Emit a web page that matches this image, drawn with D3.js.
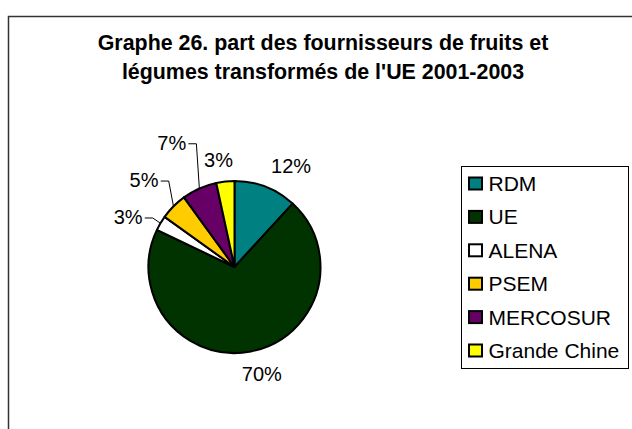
<!DOCTYPE html>
<html>
<head>
<meta charset="utf-8">
<script src="https://cdn.jsdelivr.net/npm/d3@7"></script>
<style>
  body { margin: 0; background: #fff; }
  text { font-family: Arial, "Liberation Sans", sans-serif; }
</style>
</head>
<body>
<svg id="chart" width="632" height="429"></svg>
<script>
// data (percent of total)
const categories = ["RDM", "UE", "ALENA", "PSEM", "MERCOSUR", "Grande Chine"]
const shares = [11.8, 70.3, 2.8, 5.1, 6.6, 3.4]
const colors = ["#008080", "#003300", "#ffffff", "#ffcc00", "#660066", "#ffff00"]
const titleLines = ["Graphe 26. part des fournisseurs de fruits et", "légumes transformés de l'UE 2001-2003"]

// label tweaks, like excel's "best fit" moves them
const labelNudge = {
    "RDM": [16, 3], "UE": [6, -3], "ALENA": [-10, 7],
    "PSEM": [-11, -8], "MERCOSUR": [-17, -22], "Grande Chine": [-4, 4]
}
const withLeader = ["ALENA", "PSEM", "MERCOSUR"]

const svg = d3.select("#chart")

// chart area frame (runs off the page on right / bottom)
svg.append("rect")
    .attr("x", 8.5).attr("y", 16.5)
    .attr("width", 700).attr("height", 500)
    .attr("fill", "#fff")
    .attr("stroke", "#333")
    .attr("stroke-width", 1.5)

svg.append("g").selectAll("text")
    .data(titleLines)
    .enter().append("text")
    .attr("x", 323)
    .attr("y", function(d, i) { return 50 + i * 29 })
    .attr("text-anchor", "middle")
    .style("font-size", "21.4px")
    .style("font-weight", "bold")
    .text(function(d) { return d })

const cx = 234.5, cy = 267, radius = 86
const total = d3.sum(shares)

const pie = d3.pie().sort(null).value(function(d) { return d.value })
const arc = d3.arc().innerRadius(0).outerRadius(radius)
const labelArc = d3.arc().innerRadius(112).outerRadius(112)

const slices = pie(categories.map(function(c, i) { return {id: c, value: shares[i], color: colors[i]} }))

const g = svg.append("g").attr("transform", "translate(" + cx + "," + cy + ")")

g.selectAll(".slice")
    .data(slices)
    .enter().append("path")
    .attr("class", "slice")
    .attr("d", arc)
    .attr("fill", function(d) { return d.data.color })
    .attr("stroke", "#000")
    .attr("stroke-width", 2)
    .attr("stroke-linejoin", "round")

const labels = g.selectAll(".lbl")
    .data(slices)
    .enter().append("g")
    .attr("class", "lbl")

labels.append("text")
    .attr("x", function(d) { return labelArc.centroid(d)[0] + labelNudge[d.data.id][0] })
    .attr("y", function(d) { return labelArc.centroid(d)[1] + labelNudge[d.data.id][1] })
    .attr("dy", "0.35em")
    .attr("text-anchor", "middle")
    .style("font-size", "20px")
    .text(function(d) { return Math.round(d.value / total * 100) + "%" })

// leader lines for the small slices pushed out
labels.filter(function(d) { return withLeader.indexOf(d.data.id) >= 0 })
    .each(function(d) {
        const box = d3.select(this).select("text").node().getBBox()
        const a = (d.startAngle + d.endAngle) / 2
        const ex = Math.sin(a) * radius, ey = -Math.cos(a) * radius
        const sx = box.x + box.width + 2, sy = box.y + box.height / 2 + 1
        d3.select(this).append("path")
            .attr("d", "M" + sx + "," + sy + "H" + (sx + 8) + "L" + ex + "," + ey)
            .attr("fill", "none")
            .attr("stroke", "#000")
            .attr("stroke-width", 1)
    })

// legend
const legend = svg.append("g").attr("transform", "translate(461.5,166.5)")
legend.append("rect")
    .attr("width", 167).attr("height", 202)
    .attr("fill", "#fff")
    .attr("stroke", "#000")
    .attr("stroke-width", 1)

const item = legend.selectAll(".item")
    .data(categories)
    .enter().append("g")
    .attr("class", "item")
    .attr("transform", function(d, i) { return "translate(0," + (17 + i * 33.4) + ")" })

item.append("rect")
    .attr("x", 7.5).attr("y", -6)
    .attr("width", 13).attr("height", 12)
    .attr("fill", function(d, i) { return colors[i] })
    .attr("stroke", "#000")
    .attr("stroke-width", 2)

item.append("text")
    .attr("x", 27)
    .attr("dy", "0.36em")
    .style("font-size", "21px")
    .text(function(d) { return d })
</script>
</body>
</html>
